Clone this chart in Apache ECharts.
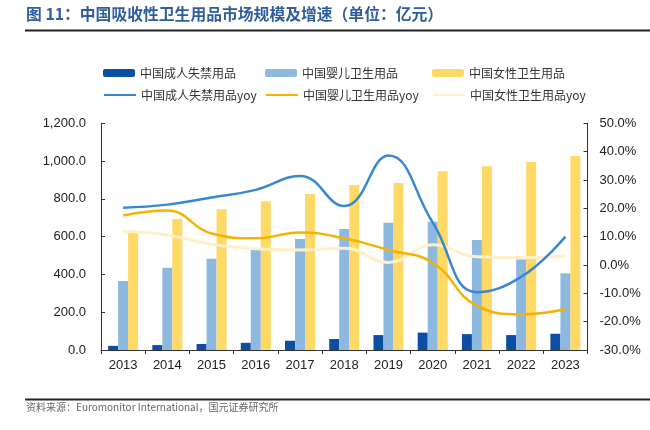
<!DOCTYPE html>
<html><head><meta charset="utf-8">
<script src="https://cdn.jsdelivr.net/npm/echarts@6/dist/echarts.min.js"></script>
<style>html,body{margin:0;padding:0;background:#fff}#c{width:650px;height:430px}</style>
</head><body><div id="c"></div>
<script>
const years = ['2013','2014','2015','2016','2017','2018','2019','2020','2021','2022','2023'];
const adult = [22, 26, 32, 38, 49, 58, 79, 92, 84, 79, 86];
const baby = [365, 435, 483, 529, 588, 641, 673, 679, 582, 479, 406];
const female = [620, 693, 745, 787, 826, 874, 884, 946, 972, 995, 1027];
const adultYoy = [20.2, 21.3, 23.8, 26.5, 31.4, 20.8, 38.6, 15.0, -9.6, -4.2, 10.0];
const babyYoy = [17.5, 19.2, 11.1, 9.4, 11.5, 9.4, 5.3, 0.8, -14.4, -17.4, -15.6];
const femaleYoy = [11.9, 10.6, 7.3, 5.7, 5.3, 5.9, 0.9, 7.1, 2.9, 2.6, 3.2];
const leftTicks = ['0.0','200.0','400.0','600.0','800.0','1,000.0','1,200.0'];

const names = ['中国成人失禁用品','中国婴儿卫生用品','中国女性卫生用品','中国成人失禁用品yoy','中国婴儿卫生用品yoy','中国女性卫生用品yoy'];
const C = {dark:'#0b4ea2', light:'#8db9e1', yellow:'#ffd966', blueL:'#3a87d1', orangeL:'#f5b300', creamL:'#fff0c9'};
const lfont = 'Noto Sans CJK SC';
const axisFont = {fontFamily:'Liberation Sans', fontSize:13, color:'#222'};

const legendPos = [[103,67],[265,67],[432,67],[103,89],[265,89],[432,89]];
const legends = names.map((n,i)=>({
  data:[n], left:legendPos[i][0], top:legendPos[i][1], itemWidth:32, itemHeight: i<3?8:3,
  itemGap:5, textStyle:{fontFamily:lfont, fontSize:12, color:'#333'}, selectedMode:false, padding:0
}));

const chart = echarts.init(document.getElementById('c'), null, {renderer:'canvas'});
chart.setOption({
  animation:false,
  legend: legends,
  grid:{left:101, right:62.5, top:123.3, bottom:80, containLabel:false},
  xAxis:{type:'category', data:years,
    axisLine:{lineStyle:{color:'#333'}}, axisTick:{show:true, length:4, lineStyle:{color:'#333'}},
    axisLabel:{...axisFont, margin:9}},
  yAxis:[
    {type:'value', min:0, max:1200, interval:200, splitLine:{show:false},
      axisLine:{show:true, lineStyle:{color:'#333'}}, axisTick:{show:true, inside:true, length:4, lineStyle:{color:'#333'}},
      axisLabel:{...axisFont, margin:15, formatter:(v)=>leftTicks[Math.round(v/200)]}},
    {type:'value', min:-30, max:50, interval:10, splitLine:{show:false},
      axisLine:{show:true, lineStyle:{color:'#333'}}, axisTick:{show:true, inside:true, length:4, lineStyle:{color:'#333'}},
      axisLabel:{...axisFont, margin:12, formatter:(v)=>v.toFixed(1)+'%'}}
  ],
  series:[
    {name:names[0], type:'bar', data:adult, barWidth:10, barGap:'0%', itemStyle:{color:C.dark}},
    {name:names[1], type:'bar', data:baby, barWidth:10, barGap:'0%', itemStyle:{color:C.light}},
    {name:names[2], type:'bar', data:female, barWidth:10, barGap:'0%', itemStyle:{color:C.yellow}},
    {name:names[3], type:'line', yAxisIndex:1, data:adultYoy, smooth:0.45, symbol:'none', lineStyle:{color:C.blueL, width:2.5}, itemStyle:{color:C.blueL}, z:5},
    {name:names[4], type:'line', yAxisIndex:1, data:babyYoy, smooth:0.45, symbol:'none', lineStyle:{color:C.orangeL, width:2.5}, itemStyle:{color:C.orangeL}, z:4},
    {name:names[5], type:'line', yAxisIndex:1, data:femaleYoy, smooth:0.45, symbol:'none', lineStyle:{color:C.creamL, width:3}, itemStyle:{color:C.creamL}, z:3}
  ],
  graphic:[
    {type:'text', left:26, top:6, style:{text:'图 11：中国吸收性卫生用品市场规模及增速（单位：亿元）', fontFamily:lfont, fontSize:15.8, fontWeight:'bold', fill:'#2f5d9e'}},
    {type:'rect', shape:{x:25, y:29.5, width:625, height:2}, style:{fill:'#222'}},
    {type:'rect', shape:{x:25, y:398.5, width:625, height:2}, style:{fill:'#222'}},
    {type:'text', left:26, top:402, style:{text:'资料来源：Euromonitor International，国元证券研究所', fontFamily:lfont, fontSize:10, fill:'#666'}}
  ]
});
</script></body></html>
